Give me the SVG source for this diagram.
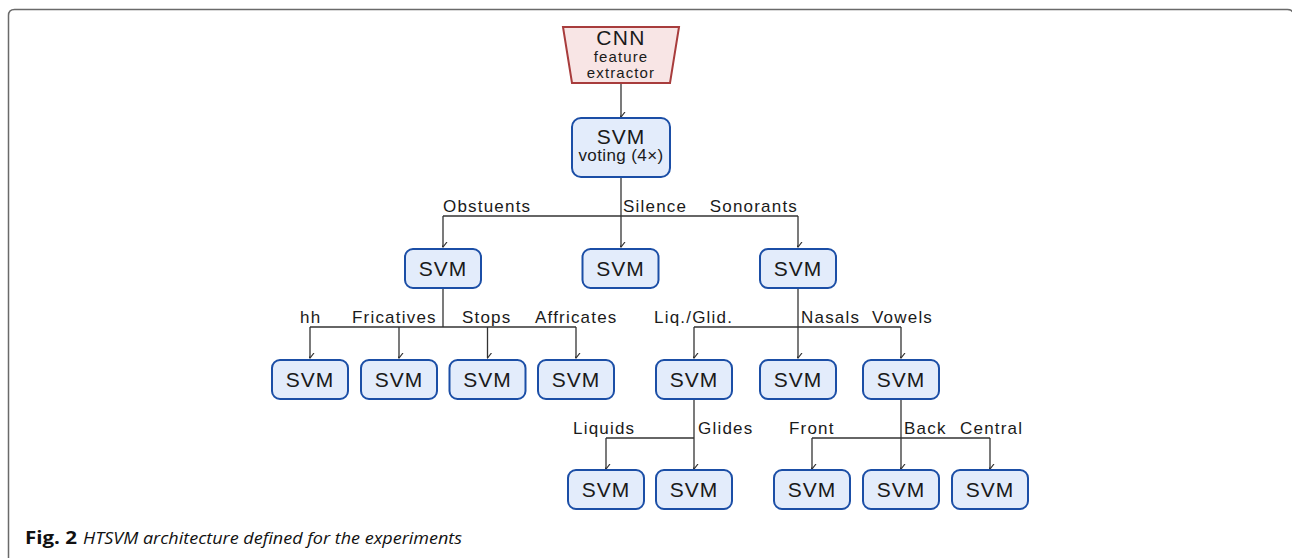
<svg xmlns="http://www.w3.org/2000/svg" width="1292" height="558" viewBox="0 0 1292 558">
<style>
.box{fill:#e3ecfb;stroke:#1b4ea6;stroke-width:2}
.trap{fill:#f8e5e5;stroke:#a83c3c;stroke-width:2}
.t{font-family:"Liberation Sans",Arial,sans-serif;fill:#1a1a1a}
.svm{font-size:21px;letter-spacing:1px;text-anchor:middle}
.lbl{font-size:17px;letter-spacing:1.2px}
.sub{font-size:17px;letter-spacing:0.4px;text-anchor:middle}
.cap{font-size:15px;letter-spacing:1.1px;text-anchor:middle}
.ln{fill:none;stroke:#333;stroke-width:1.3}
.frame{fill:none;stroke:#6a6a6a;stroke-width:1.5}
</style>
<defs>
<marker id="ah" viewBox="-5 -6 10 7" refX="0" refY="0" markerWidth="10" markerHeight="7" markerUnits="userSpaceOnUse" orient="auto-start-reverse">
<path d="M-4,-5 L0,0 L4,-5" transform="rotate(-90)" fill="none" stroke="#333" stroke-width="1.2"/>
</marker>
</defs>
<rect width="1292" height="558" fill="#fff"/>
<path class="frame" d="M8.5,558 V15.5 Q8.5,9.5 14.5,9.5 H1287.5 Q1293.5,9.5 1293.5,15.5 V558"/>

<g id="connectors">
<path class="ln" d="M621,83 V117" marker-end="url(#ah)"/>
<path class="ln" d="M621,177 V247" marker-end="url(#ah)"/>
<path class="ln" d="M443,216 H798"/>
<path class="ln" d="M443,216 V247" marker-end="url(#ah)"/>
<path class="ln" d="M798,216 V247" marker-end="url(#ah)"/>
<path class="ln" d="M443,288 V327"/>
<path class="ln" d="M310,327 H576"/>
<path class="ln" d="M310,327 V358" marker-end="url(#ah)"/>
<path class="ln" d="M399,327 V358" marker-end="url(#ah)"/>
<path class="ln" d="M487.5,327 V358" marker-end="url(#ah)"/>
<path class="ln" d="M576,327 V358" marker-end="url(#ah)"/>
<path class="ln" d="M798,288 V358" marker-end="url(#ah)"/>
<path class="ln" d="M694,327 H901"/>
<path class="ln" d="M694,327 V358" marker-end="url(#ah)"/>
<path class="ln" d="M901,327 V358" marker-end="url(#ah)"/>
<path class="ln" d="M694,399 V469" marker-end="url(#ah)"/>
<path class="ln" d="M606,438 H694"/>
<path class="ln" d="M606,438 V469" marker-end="url(#ah)"/>
<path class="ln" d="M901,399 V469" marker-end="url(#ah)"/>
<path class="ln" d="M812,438 H990"/>
<path class="ln" d="M812,438 V469" marker-end="url(#ah)"/>
<path class="ln" d="M990,438 V469" marker-end="url(#ah)"/>
</g>

<g id="edge-labels">
<text class="t lbl" x="443" y="212">Obstuents</text>
<text class="t lbl" x="623" y="212">Silence</text>
<text class="t lbl" x="798" y="212" text-anchor="end">Sonorants</text>
<text class="t lbl" x="300" y="323">hh</text>
<text class="t lbl" x="352" y="323">Fricatives</text>
<text class="t lbl" x="462" y="323">Stops</text>
<text class="t lbl" x="535" y="323">Affricates</text>
<text class="t lbl" x="654" y="323">Liq./Glid.</text>
<text class="t lbl" x="801" y="323">Nasals</text>
<text class="t lbl" x="872" y="323">Vowels</text>
<text class="t lbl" x="573" y="434">Liquids</text>
<text class="t lbl" x="698" y="434">Glides</text>
<text class="t lbl" x="789" y="434">Front</text>
<text class="t lbl" x="904" y="434">Back</text>
<text class="t lbl" x="960" y="434">Central</text>
</g>

<g id="cnn">
<polygon class="trap" points="563,27 679,27 670,83 572,83"/>
<text class="t" x="621" y="45" font-size="21" letter-spacing="1.3" text-anchor="middle">CNN</text>
<text class="t cap" x="621" y="62">feature</text>
<text class="t cap" x="621" y="78">extractor</text>
</g>
<g id="svm-voting">
<rect class="box" x="572" y="118" width="98" height="59" rx="9"/>
<text class="t svm" x="621" y="144">SVM</text>
<text class="t sub" x="621" y="161">voting (4×)</text>
</g>

<g id="svm-obstruents"><rect class="box" x="405" y="249" width="76" height="39" rx="8"/><text class="t svm" x="443" y="276">SVM</text></g>
<g id="svm-silence"><rect class="box" x="582.5" y="249" width="76" height="39" rx="8"/><text class="t svm" x="620.5" y="276">SVM</text></g>
<g id="svm-sonorants"><rect class="box" x="760" y="249" width="76" height="39" rx="8"/><text class="t svm" x="798" y="276">SVM</text></g>

<g id="svm-hh"><rect class="box" x="272" y="360" width="76" height="39" rx="8"/><text class="t svm" x="310" y="387">SVM</text></g>
<g id="svm-fricatives"><rect class="box" x="361" y="360" width="76" height="39" rx="8"/><text class="t svm" x="399" y="387">SVM</text></g>
<g id="svm-stops"><rect class="box" x="449.5" y="360" width="76" height="39" rx="8"/><text class="t svm" x="487.5" y="387">SVM</text></g>
<g id="svm-affricates"><rect class="box" x="538" y="360" width="76" height="39" rx="8"/><text class="t svm" x="576" y="387">SVM</text></g>
<g id="svm-liqglid"><rect class="box" x="656" y="360" width="76" height="39" rx="8"/><text class="t svm" x="694" y="387">SVM</text></g>
<g id="svm-nasals"><rect class="box" x="760" y="360" width="76" height="39" rx="8"/><text class="t svm" x="798" y="387">SVM</text></g>
<g id="svm-vowels"><rect class="box" x="863" y="360" width="76" height="39" rx="8"/><text class="t svm" x="901" y="387">SVM</text></g>

<g id="svm-liquids"><rect class="box" x="568" y="470" width="76" height="39" rx="8"/><text class="t svm" x="606" y="497">SVM</text></g>
<g id="svm-glides"><rect class="box" x="656" y="470" width="76" height="39" rx="8"/><text class="t svm" x="694" y="497">SVM</text></g>
<g id="svm-front"><rect class="box" x="774" y="470" width="76" height="39" rx="8"/><text class="t svm" x="812" y="497">SVM</text></g>
<g id="svm-back"><rect class="box" x="863" y="470" width="76" height="39" rx="8"/><text class="t svm" x="901" y="497">SVM</text></g>
<g id="svm-central"><rect class="box" x="952" y="470" width="76" height="39" rx="8"/><text class="t svm" x="990" y="497">SVM</text></g>

<g id="caption">
<text x="25" y="544" font-family="'Open Sans','Noto Sans',sans-serif" font-size="17" font-weight="bold" fill="#111" textLength="52" lengthAdjust="spacingAndGlyphs">Fig. 2</text>
<text x="83" y="544" font-family="'Open Sans','Noto Sans',sans-serif" font-size="17" font-style="italic" fill="#111" textLength="379" lengthAdjust="spacingAndGlyphs">HTSVM architecture defined for the experiments</text>
</g>
</svg>
